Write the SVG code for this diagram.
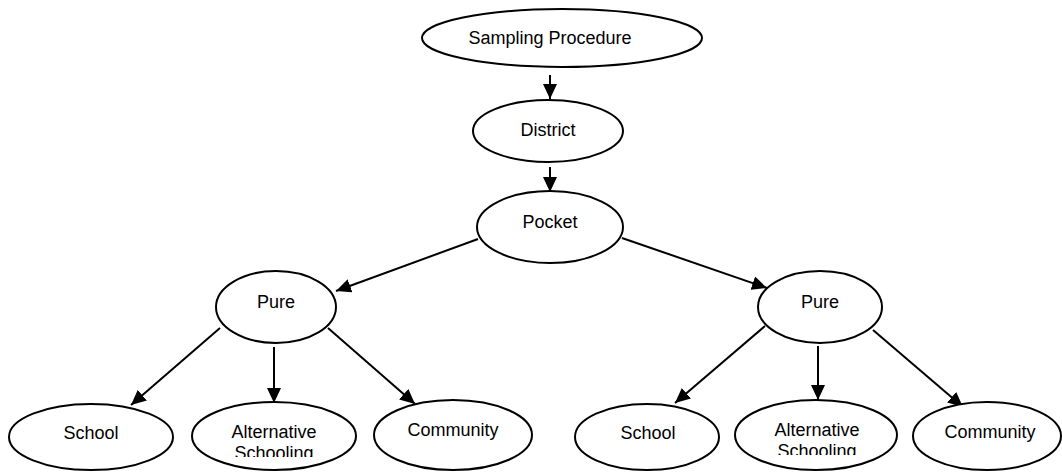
<svg xmlns="http://www.w3.org/2000/svg" width="1062" height="472" viewBox="0 0 1062 472">
<style>
.n ellipse{fill:#fff;stroke:#000;stroke-width:2}
.n text{font-family:"Liberation Sans",Arial,sans-serif;font-size:18px;fill:#000;text-anchor:middle;dominant-baseline:central}
#edges line{stroke:#000;stroke-width:2;marker-end:url(#ah)}
</style>
<defs>
<marker id="ah" markerUnits="userSpaceOnUse" markerWidth="16" markerHeight="14" refX="15" refY="7" orient="auto">
<path d="M0,0 L15,7 L0,14 Z" fill="#000"/>
</marker>
<clipPath id="cl"><rect x="180" y="410" width="190" height="47"/></clipPath>
<clipPath id="cr"><rect x="730" y="410" width="175" height="45"/></clipPath>
</defs>
<rect width="1062" height="472" fill="#fff"/>
<g id="edges">
<line x1="550" y1="75" x2="550" y2="99"/>
<line x1="550" y1="167" x2="550" y2="192"/>
<line x1="478" y1="239" x2="336" y2="291"/>
<line x1="622" y1="238" x2="767" y2="288"/>
<line x1="220" y1="328" x2="131" y2="405"/>
<line x1="274" y1="347" x2="274" y2="403"/>
<line x1="328" y1="328" x2="415" y2="404"/>
<line x1="765" y1="326" x2="675" y2="403"/>
<line x1="818" y1="346" x2="818" y2="400"/>
<line x1="873" y1="330" x2="963" y2="407"/>
</g>
<g id="sampling" class="n"><ellipse cx="562" cy="38" rx="140" ry="29"/><text x="550" y="38">Sampling Procedure</text></g>
<g id="district" class="n"><ellipse cx="548" cy="131" rx="75" ry="31"/><text x="548" y="130">District</text></g>
<g id="pocket" class="n"><ellipse cx="550" cy="227" rx="73" ry="36"/><text x="550" y="222">Pocket</text></g>
<g id="pure-left" class="n"><ellipse cx="276" cy="307" rx="60" ry="36"/><text x="276" y="302">Pure</text></g>
<g id="pure-right" class="n"><ellipse cx="820" cy="307" rx="62" ry="36"/><text x="820" y="302">Pure</text></g>
<g id="school-left" class="n"><ellipse cx="91" cy="437" rx="82" ry="33"/><text x="91" y="433">School</text></g>
<g id="alt-left" class="n"><ellipse cx="274" cy="436" rx="82" ry="34"/><g clip-path="url(#cl)"><text x="274" y="432">Alternative</text><text x="274" y="453">Schooling</text></g></g>
<g id="community-left" class="n"><ellipse cx="453" cy="435" rx="79" ry="35"/><text x="453" y="430">Community</text></g>
<g id="school-right" class="n"><ellipse cx="647" cy="437" rx="72" ry="33"/><text x="648" y="433">School</text></g>
<g id="alt-right" class="n"><ellipse cx="816" cy="435" rx="81" ry="35"/><g clip-path="url(#cr)"><text x="817" y="430">Alternative</text><text x="817" y="451">Schooling</text></g></g>
<g id="community-right" class="n"><ellipse cx="987" cy="436" rx="74" ry="34"/><text x="990" y="432">Community</text></g>
</svg>
